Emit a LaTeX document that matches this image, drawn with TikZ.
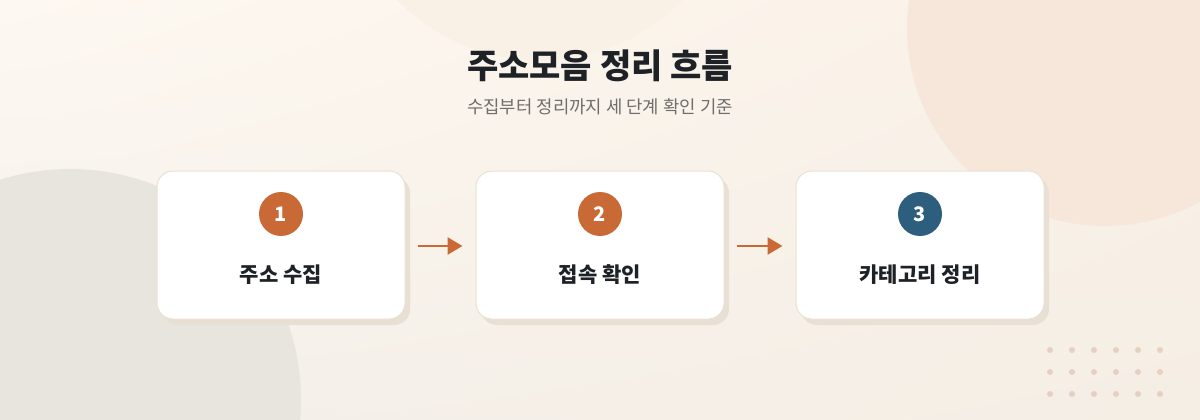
\documentclass[tikz,border=0pt]{standalone}
\usepackage{fontspec}
\setmainfont{Noto Sans CJK KR}
\usetikzlibrary{arrows.meta,shadows,shadings}
\definecolor{bgtl}{HTML}{FDF8F1}
\definecolor{bgtr}{HTML}{FAF1E7}
\definecolor{bgbl}{HTML}{F4F0EA}
\definecolor{bgbr}{HTML}{F5EEE5}
\definecolor{topc}{HTML}{F9F0E6}
\definecolor{rightc}{HTML}{F6E7DA}
\definecolor{leftc}{HTML}{E8E5DE}
\definecolor{shadowc}{HTML}{E8E0D5}
\definecolor{borderc}{HTML}{EAE1D6}
\definecolor{orangec}{HTML}{C96A36}
\definecolor{bluec}{HTML}{2E5E7D}
\definecolor{titlec}{HTML}{1E2227}
\definecolor{subc}{HTML}{6F6E6C}
\definecolor{dotc}{HTML}{E6D0C2}
\begin{document}
\begin{tikzpicture}[x=1pt,y=-1pt,
  card/.style={draw=borderc, line width=1pt, fill=white, rounded corners=16pt,
    minimum width=248pt, minimum height=148pt,
    drop shadow={shadow xshift=5pt, shadow yshift=-6pt, fill=shadowc, opacity=1}},
  badge/.style={circle, minimum size=44pt, inner sep=0pt, text=white,
    font=\bfseries\fontsize{20}{20}\selectfont},
  label/.style={text=titlec, font=\bfseries\fontsize{21}{21}\selectfont},
  arr/.style={draw=orangec, line width=2.6pt,
    -{Triangle[length=15pt,width=17pt]}, shorten <=12pt, shorten >=13pt},
  dot/.style={fill=dotc}]
\useasboundingbox (0,0) rectangle (1200,420);
\begin{scope}
\clip (0,0) rectangle (1200,420);
\shade[upper left=bgtl, upper right=bgtr, lower left=bgbl, lower right=bgbr]
  (0,0) rectangle (1200,420);
\fill[topc] (540,-140) circle (200pt);
\fill[rightc] (1105,28) circle (198pt);
\fill[leftc] (70,400) circle (231pt);
\end{scope}
% title
\node[text=titlec, font=\bfseries\fontsize{34}{34}\selectfont] (title) at (600,66) {주소모음 정리 흐름};
\node[text=subc, font=\fontsize{17.8}{17.8}\selectfont] (sub) at (600,107) {수집부터 정리까지 세 단계 확인 기준};
% cards
\node[card] (b1) at (281,245) {};
\node[card] (b2) at (600,245) {};
\node[card] (b3) at (920,245) {};
\node[badge, fill=orangec] (n1) at (281,214) {1};
\node[badge, fill=orangec] (n2) at (600,214) {2};
\node[badge, fill=bluec] (n3) at (920,214) {3};
\node[label] (l1) at (281,275) {주소 수집};
\node[label] (l2) at (600,275) {접속 확인};
\node[label] (l3) at (920,275) {카테고리 정리};
% arrows
\draw[arr] ([yshift=-1pt]b1.east) -- ([yshift=-1pt]b2.west);
\draw[arr] ([yshift=-1pt]b2.east) -- ([yshift=-1pt]b3.west);
% dots
\foreach \i in {0,...,5}{
  \foreach \j in {0,...,2}{
    \fill[dot] (1050+22*\i,350+22*\j) circle (3pt);
  }
}
\end{tikzpicture}
\end{document}
